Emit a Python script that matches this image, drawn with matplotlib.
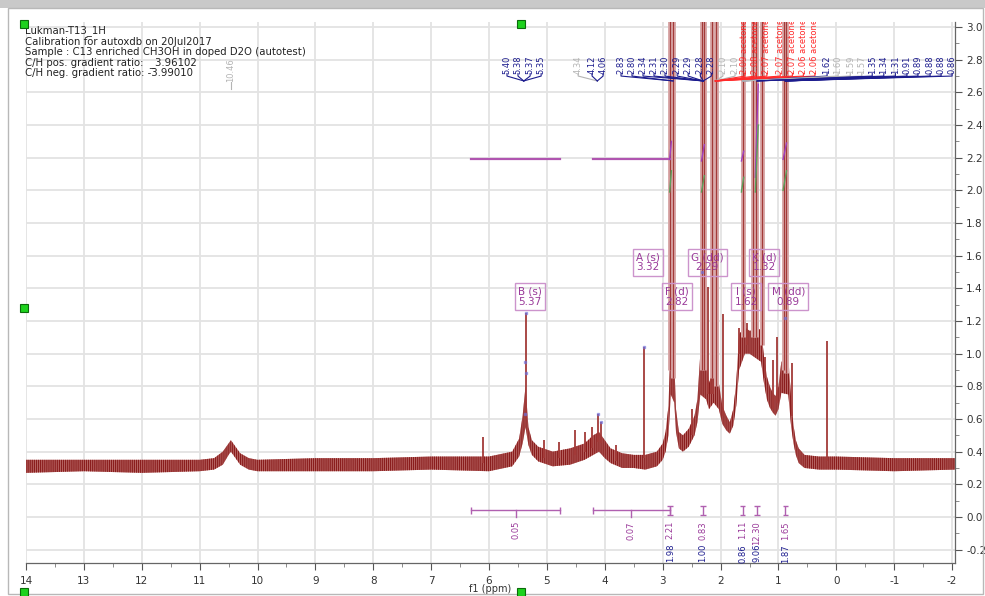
"""
plot.py
Screenshot-style 1H NMR spectrum (Lukman-T13_1H) with multiplet boxes,
peak-pick labels on top and integral brackets at the bottom.
"""
import matplotlib.pyplot as plt
from matplotlib.patches import Rectangle
from matplotlib.ticker import MultipleLocator, FormatStrFormatter

plt.rcParams['axes.unicode_minus'] = False
plt.rcParams['font.family'] = ['DejaVu Sans']
plt.rcParams['hatch.linewidth'] = 0.9

W, H = 985, 596  # output size in pixels

HEADER = ["Lukman-T13_1H",
          "Calibration for autoxdb on 20Jul2017",
          "Sample : C13 enriched CH3OH in doped D2O (autotest)",
          "C/H pos. gradient ratio:  _3.96102",
          "C/H neg. gradient ratio: -3.99010"]

# noisy baseline / broad envelope of the spectrum (ppm, lower, upper)
band_ppm = [14.0, 13.0, 12.0, 11.0, 10.75, 10.6, 10.5, 10.46, 10.4, 10.3, 10.15, 10.0,
            9.0, 8.0, 7.0, 6.0, 5.6, 5.48, 5.42, 5.37, 5.32, 5.26, 5.15, 4.9, 4.6,
            4.35, 4.2, 4.1, 4.0, 3.9, 3.7, 3.5, 3.3, 3.1, 3.0, 2.95, 2.90, 2.86,
            2.80, 2.77, 2.72, 2.65, 2.55, 2.45, 2.40, 2.35, 2.25, 2.20, 2.12, 2.03,
            1.97, 1.90, 1.84, 1.78, 1.73, 1.68, 1.58, 1.50, 1.30, 1.25, 1.20, 1.15,
            1.10, 1.05, 1.00, 0.95, 0.83, 0.78, 0.74, 0.70, 0.65, 0.55, 0.30, 0.0,
            -1.0, -2.05]
band_lo = [0.27, 0.28, 0.27, 0.28, 0.29, 0.32, 0.38, 0.40, 0.37, 0.32, 0.29, 0.28,
           0.28, 0.28, 0.29, 0.28, 0.31, 0.37, 0.45, 0.55, 0.44, 0.38, 0.34, 0.31, 0.32,
           0.35, 0.38, 0.40, 0.36, 0.33, 0.30, 0.30, 0.29, 0.31, 0.35, 0.40, 0.50, 0.75,
           0.70, 0.52, 0.42, 0.40, 0.43, 0.50, 0.58, 0.75, 0.72, 0.66, 0.70, 0.66,
           0.57, 0.53, 0.51, 0.56, 0.68, 0.90, 1.00, 1.00, 0.95, 0.82, 0.72, 0.67,
           0.64, 0.62, 0.66, 0.76, 0.75, 0.55, 0.45, 0.38, 0.33, 0.30, 0.29, 0.29,
           0.28, 0.29]
band_hi = [0.35, 0.35, 0.35, 0.35, 0.36, 0.40, 0.45, 0.47, 0.44, 0.39, 0.36, 0.35,
           0.36, 0.36, 0.37, 0.37, 0.40, 0.48, 0.62, 0.80, 0.55, 0.47, 0.43, 0.40, 0.42,
           0.45, 0.50, 0.52, 0.47, 0.42, 0.39, 0.38, 0.38, 0.40, 0.45, 0.52, 0.68, 1.10,
           0.95, 0.66, 0.52, 0.50, 0.54, 0.62, 0.72, 1.00, 0.95, 0.82, 0.90, 0.82,
           0.68, 0.62, 0.58, 0.66, 0.82, 1.12, 1.16, 1.14, 1.15, 0.98, 0.86, 0.80,
           0.76, 0.74, 0.80, 0.95, 0.98, 0.72, 0.56, 0.47, 0.42, 0.38, 0.37, 0.37,
           0.36, 0.36]

# sharp lines that stay inside the window
spike_ppm = [6.10, 5.37, 5.05, 4.80, 4.51, 4.34, 4.23, 4.12, 4.06, 3.80, 3.32, 2.50,
             2.22, 2.17, 2.13, 1.96, 1.68, 1.55, 1.23, 1.09, 1.02, 0.77, 0.16]
spike_base = [0.33, 0.60, 0.36, 0.36, 0.38, 0.40, 0.42, 0.46, 0.45, 0.34, 0.36, 0.50,
              0.75, 0.75, 0.75, 0.62, 1.00, 1.05, 0.85, 0.66, 0.70, 0.62, 0.34]
spike_top = [0.49, 1.25, 0.47, 0.46, 0.53, 0.52, 0.55, 0.63, 0.58, 0.44, 1.04, 0.66,
             1.41, 1.19, 0.92, 1.24, 1.16, 1.19, 0.98, 0.96, 1.10, 0.94, 1.08]

# lines that run off the top of the window
tall_ppm = [2.87, 2.82, 2.32, 2.28, 2.15, 2.08, 1.62, 1.44, 1.38, 1.28, 0.91, 0.87]
tall_base = [0.90, 0.85, 0.90, 0.90, 0.85, 0.80, 1.10, 1.10, 1.10, 1.05, 0.90, 0.88]

# blue peak-pick markers
mark_ppm = [5.37, 5.38, 5.37, 5.38, 4.12, 4.06, 3.32, 2.32, 0.88]
mark_y = [1.25, 0.95, 0.88, 0.63, 0.63, 0.58, 1.04, 1.50, 1.22]

# multiplet boxes
box_text = ["A (s)\n3.32", "F (d)\n2.82", "G (dd)\n2.29", "B (s)\n5.37",
            "I (s)\n1.62", "K (d)\n1.32", "M (dd)\n0.89"]
box_ppm = [3.25, 2.75, 2.23, 5.29, 1.56, 1.25, 0.83]
box_y = [1.56, 1.35, 1.56, 1.35, 1.35, 1.56, 1.35]

# peak-pick labels along the top
pick_text = ["5.40", "5.38", "5.37", "5.35",
             "4.34", "4.12", "4.06",
             "2.83", "2.80", "2.34", "2.31", "2.30", "2.29", "2.29", "2.28", "2.28",
             "2.10", "2.10",
             "2.09 acetone", "2.08 acetone", "2.07 acetone", "2.07 acetone",
             "2.07 acetone", "2.06 acetone", "2.06 acetone",
             "1.62", "1.60", "1.59", "1.57", "1.35", "1.34", "1.31",
             "0.91", "0.89", "0.88", "0.88", "0.86"]
pick_pos = [5.69, 5.50, 5.29, 5.10,
            4.46, 4.22, 4.03,
            3.72, 3.53, 3.34, 3.15, 2.96, 2.75, 2.56, 2.35, 2.16,
            1.96, 1.75,
            1.58, 1.39, 1.20, 0.97, 0.76, 0.57, 0.37,
            0.16, -0.03, -0.24, -0.44, -0.62, -0.82, -1.02,
            -1.22, -1.41, -1.62, -1.81, -2.00]
pick_node = [5.40, 5.40, 5.40, 5.40,
             4.13, 4.13, 4.13,
             2.82, 2.82, 2.30, 2.30, 2.30, 2.30, 2.30, 2.30, 2.30,
             2.09, 2.09,
             2.09, 2.09, 2.09, 2.09, 2.09, 2.09, 2.09,
             1.62, 1.62, 1.62, 1.62, 1.37, 1.37, 1.37,
             0.88, 0.88, 0.88, 0.88, 0.88]
pick_kind = ["b", "b", "b", "b",
             "g", "b", "b",
             "b", "b", "b", "b", "b", "b", "b", "b", "b",
             "g", "g",
             "r", "r", "r", "r", "r", "r", "r",
             "b", "g", "g", "g", "b", "b", "b",
             "b", "b", "b", "b", "b"]

# integrals: flat running curves and steep steps
flat_int = [(6.31, 4.77), (4.20, 2.88)]
step_ppm = [(2.88, 2.85), (2.33, 2.28), (1.64, 1.60), (1.40, 1.35), (0.92, 0.86)]
step_purple = [(2.19, 2.30), (2.18, 2.28), (2.18, 2.24), (2.08, 2.65), (2.19, 2.29)]
step_green = [(1.99, 2.12), (1.99, 2.09), (1.99, 2.08), (1.99, 2.40), (2.00, 2.12)]

# integral brackets at the bottom
wide_int = [(6.31, 4.77), (4.20, 2.88)]
wide_val = ["0.05", "0.07"]
small_int = [2.87, 2.31, 1.62, 1.37, 0.88]
small_top = ["2.21", "0.83", "1.11", "12.30", "1.65"]
small_bot = ["1.98", "1.00", "0.86", "9.06", "1.87"]

SPEC = "#a33a38"
PURPLE = "#9a3a9a"
BLUE = "#1c1c8e"
GREY = "#b4b4b4"
RED = "#ff2a2a"
GREEN = "#5aa05a"


def fig_xy(px, py):
    return px / W, 1 - py / H


def main():
    fig = plt.figure(figsize=(W / 100, H / 100), dpi=100)

    # window chrome
    fig.add_artist(Rectangle((0, 1 - 8 / H), 1, 8 / H, transform=fig.transFigure,
                             fc="#c9c9c9", ec="none"))
    fig.add_artist(Rectangle(fig_xy(8, 594), 975 / W, 586 / H, transform=fig.transFigure,
                             fc="none", ec="#b8b8b8", lw=1.0))

    ax = fig.add_axes([26 / W, 1 - 563 / H, (955 - 26) / W, (563 - 22) / H])
    ax.set_xlim(14, -2.05)
    ax.set_ylim(-0.282, 3.031)

    ax.xaxis.set_major_locator(MultipleLocator(1))
    ax.xaxis.set_minor_locator(MultipleLocator(0.5))
    ax.xaxis.set_major_formatter(FormatStrFormatter("%d"))
    ax.yaxis.set_major_locator(MultipleLocator(0.2))
    ax.yaxis.set_minor_locator(MultipleLocator(0.1))
    ax.yaxis.set_major_formatter(FormatStrFormatter("%.1f"))
    ax.yaxis.tick_right()
    ax.tick_params(axis="both", which="major", length=5, width=0.8, colors="#555555",
                   labelsize=7.5, labelcolor="#333333")
    ax.tick_params(axis="both", which="minor", length=3, width=0.6, colors="#777777")
    ax.tick_params(axis="x", pad=4)
    ax.tick_params(axis="y", pad=3)
    for side in ("left", "top"):
        ax.spines[side].set_visible(False)
    for side in ("right", "bottom"):
        ax.spines[side].set_color("#666666")
        ax.spines[side].set_linewidth(0.9)
    ax.grid(True, which="major", color="#e3e3e3", lw=1.3)
    ax.set_axisbelow(True)

    # spectrum
    ax.fill_between(band_ppm, band_lo, band_hi, facecolor="#bd6f6d", edgecolor="#8a1d1d",
                    hatch="||||||||", lw=0, zorder=2)
    ax.vlines(spike_ppm, spike_base, spike_top, color=SPEC, lw=1.3, zorder=3)
    ax.vlines(tall_ppm, tall_base, 3.3, color="#d9aaaa", lw=3.6, zorder=3)
    ax.vlines(tall_ppm, tall_base, 3.3, color=SPEC, lw=0.9, zorder=3)
    ax.plot(mark_ppm, mark_y, ls="none", marker="s", ms=2, color="#7070d8",
            alpha=0.6, zorder=4)

    # multiplet boxes
    for txt, x, y in zip(box_text, box_ppm, box_y):
        ax.text(x, y, txt, ha="center", va="center", fontsize=7.5, color=PURPLE,
                linespacing=1.05, zorder=6,
                bbox=dict(boxstyle="square,pad=0.3", fc="none", ec="#cc94cc", lw=1))

    # peak-pick labels and connectors
    colors = {"b": BLUE, "g": GREY, "r": RED}
    for txt, x, node, kind in zip(pick_text, pick_pos, pick_node, pick_kind):
        c = colors[kind]
        ax.text(x, 2.715, txt, rotation=90, ha="center", va="bottom", fontsize=6,
                color=c, clip_on=True, zorder=6)
        ax.plot([x, x, node], [2.715, 2.70, 2.67], color=c, lw=0.8, zorder=5)
    ax.plot([10.46, 10.46], [2.665, 2.62], color=GREY, lw=0.8)
    ax.text(10.46, 2.665, "10.46", rotation=90, ha="center", va="bottom",
            fontsize=6, color=GREY)

    # running integrals
    for x0, x1 in flat_int:
        ax.plot([x0, x1], [2.19, 2.19], color="#b055b0", lw=1.6, zorder=5)
    for (x0, x1), (p0, p1), (g0, g1) in zip(step_ppm, step_purple, step_green):
        ax.plot([x0, x1], [p0, p1], color="#a040c0", lw=1.0, zorder=5)
        ax.plot([x0, x1], [g0, g1], color=GREEN, lw=1.0, zorder=5)

    # integral brackets
    for (x0, x1), val in zip(wide_int, wide_val):
        ax.plot([x0, x1], [0.04, 0.04], color="#b060b0", lw=1.0)
        ax.vlines([x0, x1], 0.02, 0.06, color="#b060b0", lw=1.0)
        xm = (x0 + x1) / 2
        ax.plot([xm, xm], [0.04, 0.0], color="#b060b0", lw=1.0)
        ax.text(xm, -0.025, val, rotation=90, ha="center", va="top",
                fontsize=6, color=PURPLE)
    for x, top, bot in zip(small_int, small_top, small_bot):
        ax.vlines(x, 0.01, 0.07, color="#b060b0", lw=1.0)
        ax.hlines([0.01, 0.07], x - 0.05, x + 0.05, color="#b060b0", lw=1.0)
        ax.text(x, -0.025, top, rotation=90, ha="center", va="top", fontsize=6,
                color=PURPLE)
        ax.text(x, -0.165, bot, rotation=90, ha="center", va="top", fontsize=6,
                color=BLUE, clip_on=False)

    # header text
    for i, line in enumerate(HEADER):
        fig.text(*fig_xy(25, 31 + i * 10.6), line, fontsize=7.3, color="#222222",
                 va="center", ha="left")
    fig.text(*fig_xy(490, 589), "f1 (ppm)", fontsize=7, color="#333333",
             ha="center", va="center")

    # green selection handles
    for px, py in [(24, 24), (521, 24), (24, 308), (24, 592), (521, 592)]:
        fx, fy = fig_xy(px - 4, py + 4)
        fig.add_artist(Rectangle((fx, fy), 8 / W, 8 / H, transform=fig.transFigure,
                                 fc="#1ed21e", ec="#0b6b0b", lw=0.8, zorder=10))

    fig.savefig("out.png", dpi=100)
    plt.close(fig)


if __name__ == "__main__":
    main()
